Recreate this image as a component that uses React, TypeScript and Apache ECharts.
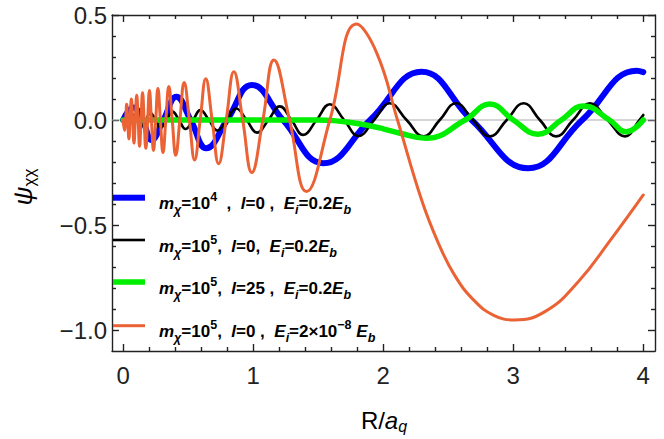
import React, { useEffect, useRef } from 'react';
import * as echarts from 'echarts';

const X_MIN = -0.085;
const X_MAX = 4.09;
const Y_MIN = -1.1;
const Y_MAX = 0.5;
const X_MAJOR = [0, 1, 2, 3, 4];
const X_MINOR = [0.2, 0.4, 0.6, 0.8, 1.2, 1.4, 1.6, 1.8, 2.2, 2.4, 2.6, 2.8, 3.2, 3.4, 3.6, 3.8];
const Y_MAJOR = [-1.0, -0.5, 0, 0.5];
const Y_MINOR = [-0.9, -0.8, -0.7, -0.6, -0.4, -0.3, -0.2, -0.1, 0.1, 0.2, 0.3, 0.4];
const X_LABELS = ['0', '1', '2', '3', '4'];
const Y_LABELS = ['\u22121.0', '\u22120.5', '0.0', '0.5'];

// m=1e4, l=0, E=0.2Eb  (extrema and zero crossings)
const BLUE = [
  [0, 0], [0.08, 0.06], [0.15, 0], [0.22, -0.095], [0.31, 0], [0.41, 0.111], [0.52, 0],
  [0.64, -0.135], [0.8, 0], [0.99, 0.167], [1.23, 0], [1.54, -0.206], [1.9, 0],
  [2.295, 0.23], [2.68, 0], [3.115, -0.23], [3.53, 0], [3.95, 0.235], [4.0, 0.228],
];

// m=1e5, l=0, E=0.2Eb
const BLACK = [
  [0, 0], [0.03, -0.02], [0.055, 0], [0.08, 0.025], [0.11, 0], [0.14, -0.03], [0.175, 0],
  [0.21, 0.033], [0.25, 0], [0.29, -0.036], [0.335, 0], [0.38, 0.04], [0.43, 0],
  [0.48, -0.043], [0.538, 0], [0.595, 0.047], [0.66, 0], [0.725, -0.05], [0.797, 0],
  [0.87, 0.055], [0.95, 0], [1.03, -0.06], [1.118, 0], [1.205, 0.065], [1.295, 0],
  [1.385, -0.071], [1.488, 0], [1.59, 0.075], [1.7, 0], [1.81, -0.076], [1.93, 0],
  [2.05, 0.08], [2.18, 0], [2.31, -0.078], [2.435, 0], [2.56, 0.08], [2.69, 0],
  [2.82, -0.078], [2.95, 0], [3.08, 0.08], [3.205, 0], [3.33, -0.078], [3.46, 0],
  [3.59, 0.08], [3.725, 0], [3.86, -0.078], [3.97, 0], [4.0, 0.024],
];

// m=1e5, l=25, E=0.2Eb
const GREEN = [
  [0, 0], [1.5, 0], [1.62, -0.003], [1.75, -0.012], [1.87, -0.024], [2.0, -0.042],
  [2.13, -0.063], [2.33, -0.087], [2.63, 0], [2.82, 0.076], [3.0, 0], [3.19, -0.068],
  [3.37, 0], [3.54, 0.067], [3.74, 0], [3.87, -0.056], [4.0, 0],
];

// m=1e5, l=0, E=2e-8 Eb
const ORANGE = [
  [0, 0], [0.012, -0.05], [0.02, 0], [0.028, 0.075], [0.036, 0], [0.045, -0.09],
  [0.054, 0], [0.064, 0.1], [0.074, 0], [0.084, -0.11], [0.094, 0], [0.105, 0.118],
  [0.116, 0], [0.127, -0.125], [0.138, 0], [0.15, 0.13], [0.162, 0], [0.175, -0.135],
  [0.189, 0], [0.203, 0.14], [0.218, 0], [0.234, -0.145], [0.251, 0], [0.268, 0.15],
  [0.287, 0], [0.307, -0.155], [0.329, 0], [0.352, 0.16], [0.378, 0], [0.405, -0.168],
  [0.437, 0], [0.47, 0.178], [0.51, 0], [0.55, -0.19], [0.593, 0], [0.636, 0.196],
  [0.685, 0], [0.735, -0.208], [0.793, 0], [0.852, 0.23], [0.92, 0], [0.99, -0.25],
  [1.075, 0], [1.16, 0.286], [1.28, 0], [1.41, -0.341], [1.59, 0], [1.795, 0.457],
  [1.95, 0.32], [2.11, 0], [2.295, -0.38], [2.42, -0.58], [2.55, -0.74], [2.7, -0.86],
  [2.85, -0.93], [3.01, -0.952], [3.25, -0.91], [3.5, -0.77], [3.75, -0.57], [4.0, -0.357],
];

const ZERO_LINE = [[X_MIN, 0], [X_MAX, 0]];

const COLORS = ['#0000ff', '#000000', '#00ee00', '#eb6235'];
const WIDTHS = [6, 2.6, 5.5, 3];
const LEGEND_TEXT = [
  '{i|m}{s|\u03c7}{n|=10}{p|4}{n|  ,  }{i|l}{n|=0 ,  }{i|E}{s|i}{n|=0.2}{i|E}{s|b}',
  '{i|m}{s|\u03c7}{n|=10}{p|5}{n|,  }{i|l}{n|=0,  }{i|E}{s|i}{n|=0.2}{i|E}{s|b}',
  '{i|m}{s|\u03c7}{n|=10}{p|5}{n|,  }{i|l}{n|=25 ,  }{i|E}{s|i}{n|=0.2}{i|E}{s|b}',
  '{i|m}{s|\u03c7}{n|=10}{p|5}{n|,  }{i|l}{n|=0 ,  }{i|E}{s|i}{n|=2\u00d710}{p|\u22128}{n| }{i|E}{s|b}',
];

const FONT = '"Liberation Sans", Arial, sans-serif';
const FRAME = { color: '#222', width: 1.4 };

export default function App() {
  const ref = useRef<HTMLDivElement>(null);
  useEffect(() => {
    if (!ref.current) return;
    const chart = echarts.init(ref.current, null, { renderer: 'svg' });
    const grid = { left: 112, top: 15, right: 9, bottom: 88 };
    const xBase = (position: string, values: number[], len: number, labels: boolean, line: boolean) => ({
      type: 'value', min: X_MIN, max: X_MAX, position,
      axisLine: { show: line, onZero: false, lineStyle: FRAME },
      axisTick: { show: true, inside: true, length: len, customValues: values, lineStyle: FRAME },
      axisLabel: labels
        ? { show: true, customValues: X_MAJOR, fontSize: 24, fontFamily: FONT, color: '#222', margin: 12,
            formatter: (v: number) => X_LABELS[X_MAJOR.indexOf(Math.round(v))] ?? '' }
        : { show: false },
      splitLine: { show: false },
    });
    const yBase = (position: string, values: number[], len: number, labels: boolean, line: boolean) => ({
      type: 'value', min: Y_MIN, max: Y_MAX, position,
      axisLine: { show: line, onZero: false, lineStyle: FRAME },
      axisTick: { show: true, inside: true, length: len, customValues: values, lineStyle: FRAME },
      axisLabel: labels
        ? { show: true, customValues: Y_MAJOR, fontSize: 24, fontFamily: FONT, color: '#222', margin: 5,
            formatter: (v: number) => {
              const k = Y_MAJOR.findIndex((m) => Math.abs(m - v) < 1e-6);
              return k >= 0 ? Y_LABELS[k] : '';
            } }
        : { show: false },
      splitLine: { show: false },
    });
    const seriesData = [BLUE, BLACK, GREEN, ORANGE];
    const legendY = [197.7, 240, 282, 325.7];
    const rich = {
      n: { fontSize: 17, fontWeight: 'bold', fontFamily: FONT, color: '#000', lineHeight: 26 },
      i: { fontSize: 17, fontWeight: 'bold', fontStyle: 'italic', fontFamily: FONT, color: '#000', lineHeight: 26 },
      s: { fontSize: 12.5, fontWeight: 'bold', fontStyle: 'italic', fontFamily: FONT, color: '#000', lineHeight: 15, verticalAlign: 'bottom' },
      p: { fontSize: 12.5, fontWeight: 'bold', fontFamily: FONT, color: '#000', lineHeight: 15, verticalAlign: 'top' },
    };
    const graphic: any[] = [];
    legendY.forEach((y, k) => {
      graphic.push({ type: 'line', shape: { x1: 113, y1: y, x2: 145, y2: y }, style: { stroke: COLORS[k], lineWidth: WIDTHS[k] }, z: 100 });
      graphic.push({ type: 'text', x: 159, y: y + 6, style: { text: LEGEND_TEXT[k], rich, verticalAlign: 'middle', align: 'left' }, z: 100 });
    });
    graphic.push({
      type: 'text', x: 23, y: 187, rotation: Math.PI / 2,
      style: {
        text: '{a|\u03c8}{b|\u03c7\u03c7}', align: 'center', verticalAlign: 'middle',
        rich: {
          a: { fontSize: 26, fontStyle: 'italic', fontFamily: FONT, color: '#222', lineHeight: 30 },
          b: { fontSize: 17, fontFamily: FONT, color: '#222', lineHeight: 18, verticalAlign: 'bottom' },
        },
      },
    });
    graphic.push({
      type: 'text', x: 384, y: 420,
      style: {
        text: '{a|R/}{c|a}{b|q}', align: 'center', verticalAlign: 'middle',
        rich: {
          a: { fontSize: 24, fontFamily: FONT, color: '#222', lineHeight: 28 },
          c: { fontSize: 24, fontStyle: 'italic', fontFamily: FONT, color: '#222', lineHeight: 28 },
          b: { fontSize: 16, fontStyle: 'italic', fontFamily: FONT, color: '#222', lineHeight: 18, verticalAlign: 'bottom' },
        },
      },
    });
    chart.setOption({
      animation: false,
      grid,
      xAxis: [
        xBase('bottom', X_MAJOR, 7, true, true),
        xBase('bottom', X_MINOR, 4, false, false),
        xBase('top', X_MAJOR, 7, false, true),
        xBase('top', X_MINOR, 4, false, false),
      ],
      yAxis: [
        yBase('left', Y_MAJOR, 7, true, true),
        yBase('left', Y_MINOR, 4, false, false),
        yBase('right', Y_MAJOR, 7, false, true),
        yBase('right', Y_MINOR, 4, false, false),
      ],
      series: [
        {
          type: 'line', data: ZERO_LINE, xAxisIndex: 0, yAxisIndex: 0, symbol: 'none', silent: true,
          lineStyle: { color: '#aaa', width: 1 }, z: 1,
        },
        ...seriesData.map((d, k) => ({
          type: 'line', data: d, xAxisIndex: 0, yAxisIndex: 0, symbol: 'none', showSymbol: false,
          smooth: 0.45, silent: true, clip: true,
          lineStyle: { color: COLORS[k], width: WIDTHS[k], cap: 'round', join: 'round' }, z: 2 + k,
        })),
      ],
      graphic,
    });
    return () => chart.dispose();
  }, []);
  return <div ref={ref} style={{ width: 664, height: 439, position: 'absolute', left: 0, top: 0 }} />;
}
